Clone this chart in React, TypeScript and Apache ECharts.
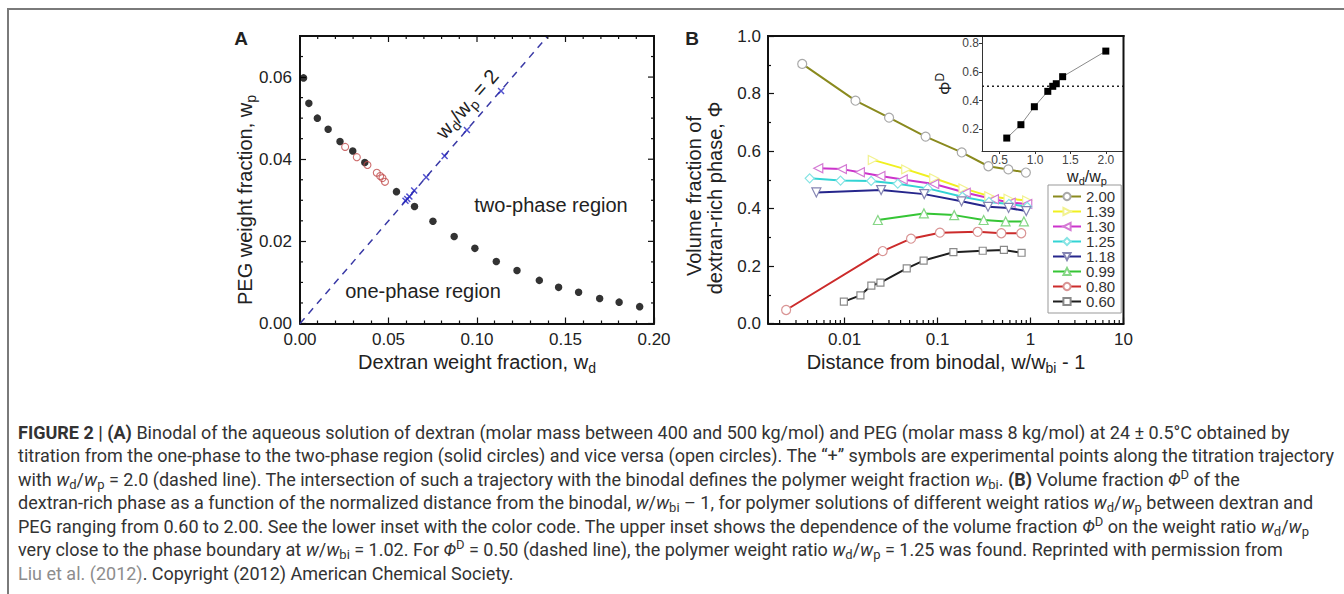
import React, { useEffect, useRef } from "react";
import * as echarts from "echarts";

const FONT = "'Liberation Sans', Arial, sans-serif";
const CAP_FONT = "Roboto, 'Liberation Sans', sans-serif";
const INK = "#222";

// ---------- Panel A data ----------
const aXTicks = [0, 0.05, 0.1, 0.15, 0.2];
const aXMinorTicks = [0.01, 0.02, 0.03, 0.04, 0.06, 0.07, 0.08, 0.09, 0.11, 0.12, 0.13, 0.14, 0.16, 0.17, 0.18, 0.19];
const aYTicks = [0, 0.02, 0.04, 0.06];
const aYMinorTicks = [0.005, 0.01, 0.015, 0.025, 0.03, 0.035, 0.045, 0.05, 0.055, 0.065];
const solidWd = [0.002, 0.005, 0.0098, 0.0159, 0.0226, 0.0298, 0.0366, 0.0545, 0.0647, 0.0751, 0.0871, 0.0988, 0.1109, 0.1226, 0.1352, 0.1461, 0.1574, 0.1693, 0.1803, 0.1919];
const solidWp = [0.0598, 0.0536, 0.05, 0.0473, 0.0443, 0.042, 0.0392, 0.0321, 0.0285, 0.0249, 0.0212, 0.0183, 0.0151, 0.0129, 0.0105, 0.0088, 0.0076, 0.0061, 0.0052, 0.0041];
const openWd = [0.0255, 0.0321, 0.0381, 0.0434, 0.0453, 0.0466, 0.048];
const openWp = [0.043, 0.0405, 0.0386, 0.0367, 0.0359, 0.0354, 0.0345];
const crossWd = [0.0596, 0.0606, 0.0618, 0.0645, 0.0713, 0.0817, 0.0943, 0.1136];
const crossWp = [0.0299, 0.0303, 0.0309, 0.0324, 0.0356, 0.0408, 0.0471, 0.0566];
const trajWd = [0, 0.14];
const trajWp = [0, 0.07];

// ---------- Panel B data ----------
const bNames = ["2.00", "1.39", "1.30", "1.25", "1.18", "0.99", "0.80", "0.60"];
const b200x = [0.0035, 0.0131, 0.0301, 0.0744, 0.182, 0.352, 0.577, 0.891];
const b200y = [0.903, 0.775, 0.716, 0.65, 0.595, 0.547, 0.536, 0.525];
const b139x = [0.0201, 0.046, 0.092, 0.19, 0.36, 0.58, 0.92];
const b139y = [0.569, 0.536, 0.505, 0.47, 0.443, 0.434, 0.428];
const b130x = [0.00521, 0.00936, 0.0146, 0.0243, 0.0422, 0.092, 0.201, 0.404, 0.611, 0.922];
const b130y = [0.54, 0.537, 0.526, 0.513, 0.501, 0.485, 0.455, 0.432, 0.42, 0.416];
const b125x = [0.00421, 0.00904, 0.0193, 0.0373, 0.0781, 0.185, 0.357, 0.586, 0.921];
const b125y = [0.505, 0.497, 0.496, 0.486, 0.47, 0.441, 0.423, 0.416, 0.406];
const b118x = [0.00497, 0.0247, 0.0719, 0.181, 0.349, 0.581, 0.899];
const b118y = [0.456, 0.464, 0.45, 0.425, 0.406, 0.402, 0.391];
const b099x = [0.0228, 0.0713, 0.151, 0.313, 0.54, 0.849];
const b099y = [0.36, 0.383, 0.377, 0.36, 0.355, 0.355];
const b080x = [0.00235, 0.0257, 0.0518, 0.106, 0.27, 0.485, 0.795];
const b080y = [0.047, 0.252, 0.295, 0.316, 0.319, 0.314, 0.314];
const b060x = [0.00982, 0.0148, 0.0194, 0.0243, 0.0466, 0.0708, 0.148, 0.306, 0.517, 0.801];
const b060y = [0.076, 0.098, 0.132, 0.142, 0.192, 0.219, 0.248, 0.253, 0.256, 0.246];
const bXMinorTicks = [0.002, 0.003, 0.004, 0.005, 0.006, 0.007, 0.008, 0.009, 0.02, 0.03, 0.04, 0.05, 0.06, 0.07, 0.08, 0.09, 0.2, 0.3, 0.4, 0.5, 0.6, 0.7, 0.8, 0.9, 2, 3, 4, 5, 6, 7, 8, 9];

// ---------- Inset data ----------
const insetRatio = [0.6, 0.8, 0.99, 1.18, 1.25, 1.3, 1.39, 2.0];
const insetPhi = [0.14, 0.233, 0.358, 0.465, 0.5, 0.518, 0.567, 0.745];
const insetXTicks = [0.5, 1.0, 1.5, 2.0];
const insetYTicks = [0.2, 0.4, 0.6, 0.8];
const insetRefX = [0.25, 2.25];
const insetRefY = [0.5, 0.5];

const zip = (xs: number[], ys: number[]) => xs.map((x, i) => [x, ys[i]]);

const richFor = (size: number, family: string, fill: string) => {
  const lh = Math.round(size * 1.3);
  const small = Math.round(size * 0.7);
  return {
    i: { fontStyle: "italic", fontSize: size, fontFamily: family, fill, lineHeight: lh },
    b: { fontWeight: "bold", fontSize: size, fontFamily: family, fill, lineHeight: lh },
    g: { fontSize: size, fontFamily: family, fill: "#8d8d8d", lineHeight: lh },
    s: { fontSize: small, fontFamily: family, fill, verticalAlign: "bottom", lineHeight: small },
    p: { fontSize: small, fontFamily: family, fill, verticalAlign: "top", lineHeight: small },
  };
};

const txt = (
  text: string,
  x: number,
  y: number,
  size: number,
  opts: { rotation?: number; align?: string; weight?: string; family?: string; fill?: string; scaleX?: number } = {}
) => {
  const family = opts.family || FONT;
  const fill = opts.fill || INK;
  const align = opts.align || "center";
  return {
    type: "text",
    x,
    y,
    rotation: opts.rotation || 0,
    scaleX: opts.scaleX || 1,
    silent: true,
    z: 10,
    style: {
      text,
      fontSize: size,
      fontFamily: family,
      fontWeight: opts.weight || "normal",
      fill,
      align,
      verticalAlign: "middle",
      textAlign: align,
      textVerticalAlign: "middle",
      lineHeight: Math.round(size * 1.3),
      rich: richFor(size, family, fill),
    },
  };
};

const seg = (x1: number, y1: number, x2: number, y2: number, stroke: string, w: number) => ({
  type: "line",
  silent: true,
  z: 9,
  shape: { x1, y1, x2, y2 },
  style: { stroke, lineWidth: w },
});

const captionLines = [
  "{b|FIGURE 2 | (A)} Binodal of the aqueous solution of dextran (molar mass between 400 and 500 kg/mol) and PEG (molar mass 8 kg/mol) at 24 ± 0.5°C obtained by",
  "titration from the one-phase to the two-phase region (solid circles) and vice versa (open circles). The “+” symbols are experimental points along the titration trajectory",
  "with {i|w}{s|d}/{i|w}{s|p} = 2.0 (dashed line). The intersection of such a trajectory with the binodal defines the polymer weight fraction {i|w}{s|bi}. {b|(B)} Volume fraction {i|Φ}{p|D} of the",
  "dextran-rich phase as a function of the normalized distance from the binodal, {i|w}/{i|w}{s|bi} – 1, for polymer solutions of different weight ratios {i|w}{s|d}/{i|w}{s|p} between dextran and",
  "PEG ranging from 0.60 to 2.00. See the lower inset with the color code. The upper inset shows the dependence of the volume fraction {i|Φ}{p|D} on the weight ratio {i|w}{s|d}/{i|w}{s|p}",
  "very close to the phase boundary at {i|w}/{i|w}{s|bi} = 1.02. For {i|Φ}{p|D} = 0.50 (dashed line), the polymer weight ratio {i|w}{s|d}/{i|w}{s|p} = 1.25 was found. Reprinted with permission from",
  "{g|Liu et al. (2012)}. Copyright (2012) American Chemical Society.",
];

const axisLine = { show: true, onZero: false, lineStyle: { color: "#111", width: 2 } };
const tickStyle = { color: "#111", width: 1.2 };
const labelStyle = { fontSize: 17, color: INK, fontFamily: FONT };

const CROSS = "path://M0,1.5L1.5,0L5,3.5L8.5,0L10,1.5L6.5,5L10,8.5L8.5,10L5,6.5L1.5,10L0,8.5L3.5,5Z";

const bStyles = [
  { line: "#8a8a1e", mark: "#a9a9a9", symbol: "circle", rot: 0 },
  { line: "#f0f020", mark: "#f2f290", symbol: "triangle", rot: -90 },
  { line: "#cc33cc", mark: "#d47ad4", symbol: "triangle", rot: 90 },
  { line: "#33d4d4", mark: "#86e4e4", symbol: "diamond", rot: 0 },
  { line: "#26268c", mark: "#8585b3", symbol: "triangle", rot: 180 },
  { line: "#35c535", mark: "#86d686", symbol: "triangle", rot: 0 },
  { line: "#cc2b2b", mark: "#d99494", symbol: "circle", rot: 0 },
  { line: "#1e1e1e", mark: "#8a8a8a", symbol: "rect", rot: 0 },
];
const bData = [
  zip(b200x, b200y),
  zip(b139x, b139y),
  zip(b130x, b130y),
  zip(b125x, b125y),
  zip(b118x, b118y),
  zip(b099x, b099y),
  zip(b080x, b080y),
  zip(b060x, b060y),
];

// tick marks drawn through the axes' own scales (custom series)
const tickSeries = (
  axisIdx: number,
  side: "top" | "bottom" | "left" | "right",
  values: number[],
  len: number,
  other: number
) => ({
  type: "custom",
  coordinateSystem: "cartesian2d",
  xAxisIndex: axisIdx,
  yAxisIndex: axisIdx,
  silent: true,
  clip: false,
  z: 6,
  data: values.map((v) => (side === "top" || side === "bottom" ? [v, other] : [other, v])),
  renderItem: (params: any, api: any) => {
    const cs = params.coordSys;
    const pt = api.coord([api.value(0), api.value(1)]);
    let shape;
    if (side === "top") shape = { x1: pt[0], y1: cs.y, x2: pt[0], y2: cs.y + len };
    else if (side === "bottom") shape = { x1: pt[0], y1: cs.y + cs.height, x2: pt[0], y2: cs.y + cs.height - len };
    else if (side === "left") shape = { x1: cs.x, y1: pt[1], x2: cs.x + len, y2: pt[1] };
    else shape = { x1: cs.x + cs.width, y1: pt[1], x2: cs.x + cs.width - len, y2: pt[1] };
    return { type: "line", shape, style: { stroke: "#111", lineWidth: 1.2 } };
  },
});

function buildOption() {
  const bSeries = bNames.map((name, i) => ({
    type: "line",
    name,
    xAxisIndex: 1,
    yAxisIndex: 1,
    data: bData[i],
    symbol: bStyles[i].symbol,
    symbolRotate: bStyles[i].rot,
    symbolSize: bStyles[i].symbol === "rect" ? 7 : 9,
    showAllSymbol: true,
    lineStyle: { color: bStyles[i].line, width: 2 },
    itemStyle: { color: "#ffffff", borderColor: bStyles[i].mark, borderWidth: 1.2 },
    z: 3,
  }));

  const graphics: any[] = [
    // page frame
    seg(7, 9, 1344, 9, "#7a7a7a", 2),
    seg(8, 8, 8, 594, "#7a7a7a", 2),
    // plot frames (top and right edges)
    seg(299, 36, 655, 36, "#111", 2),
    seg(654, 35, 654, 324.5, "#111", 2),
    seg(767, 36, 1124.5, 36, "#111", 2),
    seg(1123.5, 35, 1123.5, 324.5, "#111", 2),
    // panel letters
    txt("A", 241, 38, 19, { weight: "bold" }),
    txt("B", 692, 38, 19, { weight: "bold" }),
    // panel A titles
    txt("PEG weight fraction, w{s|p}", 245, 200, 20, { rotation: Math.PI / 2 }),
    txt("Dextran weight fraction, w{s|d}", 477, 362, 20),
    txt("two-phase region", 551, 205, 20),
    txt("one-phase region", 423, 291, 20),
    txt("w{s|d}/w{s|p} = 2", 467, 104, 20, { rotation: (49 * Math.PI) / 180 }),
    // panel B titles
    txt("Volume fraction of", 694, 196, 20, { rotation: Math.PI / 2 }),
    txt("dextran-rich phase, Φ", 715, 198, 20, { rotation: Math.PI / 2 }),
    txt("Distance from binodal, w/w{s|bi} - 1", 946, 362, 20),
    // inset titles
    txt("Φ{p|D}", 945, 84, 17, { rotation: Math.PI / 2 }),
    txt("w{s|d}/w{s|p}", 1087, 176, 16),
  ];
  captionLines.forEach((line, k) => {
    graphics.push(txt(line, 18, 432 + 23.5 * k, 18, { align: "left", family: CAP_FONT, fill: "#333" }));
  });

  return {
    animation: false,
    backgroundColor: "#ffffff",
    grid: [
      { left: 300, top: 36, width: 354, height: 287.5, show: false },
      { left: 768, top: 36, width: 355.5, height: 287.5, show: false },
      { left: 982, top: 36, width: 141.5, height: 115, show: false },
    ],
    xAxis: [
      {
        gridIndex: 0,
        type: "value",
        min: 0,
        max: 0.2,
        interval: 0.05,
        position: "bottom",
        axisLine,
        axisTick: { show: true, inside: true, length: 6, lineStyle: tickStyle },
        minorTick: { show: true, splitNumber: 5, length: 3, lineStyle: tickStyle },
        axisLabel: { ...labelStyle, margin: 7, formatter: (v: number) => v.toFixed(2) },
        splitLine: { show: false },
        minorSplitLine: { show: false },
      },
      {
        gridIndex: 1,
        type: "log",
        logBase: 10,
        min: 0.0015,
        max: 10,
        position: "bottom",
        axisLine,
        axisTick: { show: true, inside: true, length: 6, lineStyle: tickStyle },
        axisLabel: {
          ...labelStyle,
          margin: 7,
          showMinLabel: false,
          formatter: (v: number) => String(+Number(v).toPrecision(2)),
        },
        splitLine: { show: false },
      },
      {
        gridIndex: 2,
        type: "value",
        min: 0.25,
        max: 2.25,
        position: "bottom",
        axisLine: { show: true, onZero: false, lineStyle: { color: "#333", width: 1 } },
        axisTick: { show: true, length: 3, customValues: insetXTicks, lineStyle: { color: "#333", width: 1 } },
        axisLabel: { fontSize: 12, color: "#444", fontFamily: FONT, margin: 3, customValues: insetXTicks, formatter: (v: number) => v.toFixed(1) },
        splitLine: { show: false },
      },
    ],
    yAxis: [
      {
        gridIndex: 0,
        type: "value",
        min: 0,
        max: 0.07,
        position: "left",
        axisLine,
        axisTick: { show: true, inside: true, length: 6, customValues: aYTicks, lineStyle: tickStyle },
        axisLabel: { ...labelStyle, customValues: aYTicks, margin: 8, formatter: (v: number) => v.toFixed(2) },
        splitLine: { show: false },
      },
      {
        gridIndex: 1,
        type: "value",
        min: 0,
        max: 1,
        interval: 0.2,
        position: "left",
        axisLine,
        axisTick: { show: true, inside: true, length: 6, lineStyle: tickStyle },
        minorTick: { show: true, splitNumber: 2, length: 3, lineStyle: tickStyle },
        axisLabel: { ...labelStyle, margin: 7, formatter: (v: number) => v.toFixed(1) },
        splitLine: { show: false },
        minorSplitLine: { show: false },
      },
      {
        gridIndex: 2,
        type: "value",
        min: 0.05,
        max: 0.85,
        position: "left",
        axisLine: { show: true, onZero: false, lineStyle: { color: "#333", width: 1 } },
        axisTick: { show: true, length: 3, customValues: insetYTicks, lineStyle: { color: "#333", width: 1 } },
        axisLabel: { fontSize: 12, color: "#444", fontFamily: FONT, margin: 3, customValues: insetYTicks, formatter: (v: number) => v.toFixed(1) },
        splitLine: { show: false },
      },
    ],
    legend: {
      data: bNames,
      left: 1048,
      top: 185,
      orient: "vertical",
      itemWidth: 28,
      itemHeight: 9,
      itemGap: 0,
      padding: [4, 6, 4, 4],
      borderColor: "#999",
      borderWidth: 1,
      selectedMode: false,
      textStyle: { fontSize: 15, color: "#333", fontFamily: FONT },
    },
    series: [
      {
        type: "line",
        name: "traj",
        xAxisIndex: 0,
        yAxisIndex: 0,
        data: zip(trajWd, trajWp),
        symbol: "none",
        silent: true,
        lineStyle: { type: [7, 6], color: "#3a3aa6", width: 1.5 },
        z: 1,
      },
      {
        type: "scatter",
        name: "solid",
        xAxisIndex: 0,
        yAxisIndex: 0,
        data: zip(solidWd, solidWp),
        symbol: "circle",
        symbolSize: 7.5,
        itemStyle: { color: "#000" },
        z: 3,
      },
      {
        type: "scatter",
        name: "open",
        xAxisIndex: 0,
        yAxisIndex: 0,
        data: zip(openWd, openWp),
        symbol: "circle",
        symbolSize: 7,
        itemStyle: { color: "rgba(255,255,255,0)", borderColor: "#c04848", borderWidth: 1.1 },
        z: 4,
      },
      {
        type: "scatter",
        name: "cross",
        xAxisIndex: 0,
        yAxisIndex: 0,
        data: zip(crossWd, crossWp),
        symbol: CROSS,
        symbolSize: 7,
        itemStyle: { color: "#2626c0" },
        z: 4,
      },
      // Panel A mirrored / minor ticks
      tickSeries(0, "top", aXTicks, 6, 0),
      tickSeries(0, "top", aXMinorTicks, 3, 0),
      tickSeries(0, "right", aYTicks, 6, 0),
      tickSeries(0, "right", aYMinorTicks, 3, 0),
      tickSeries(0, "left", aYMinorTicks, 3, 0),
      ...bSeries,
      // Panel B log minor ticks
      tickSeries(1, "bottom", bXMinorTicks, 3.5, 0),
      {
        type: "line",
        name: "ref",
        xAxisIndex: 2,
        yAxisIndex: 2,
        data: zip(insetRefX, insetRefY),
        symbol: "none",
        silent: true,
        lineStyle: { type: [2, 3], color: "#222", width: 1.5 },
      },
      {
        type: "line",
        name: "inset",
        xAxisIndex: 2,
        yAxisIndex: 2,
        data: zip(insetRatio, insetPhi),
        symbol: "rect",
        symbolSize: 7,
        lineStyle: { color: "#8a8a8a", width: 1 },
        itemStyle: { color: "#000" },
        z: 4,
      },
    ],
    graphic: { elements: graphics },
  };
}

export default function App() {
  const ref = useRef<HTMLDivElement>(null);
  useEffect(() => {
    const el = ref.current;
    if (!el) return;
    const chart = echarts.init(el, null, { renderer: "svg" });
    chart.setOption(buildOption() as any);
    return () => chart.dispose();
  }, []);
  return (
    <div
      ref={ref}
      style={{ position: "absolute", left: 0, top: 0, width: 1344, height: 594, background: "#fff" }}
    />
  );
}
